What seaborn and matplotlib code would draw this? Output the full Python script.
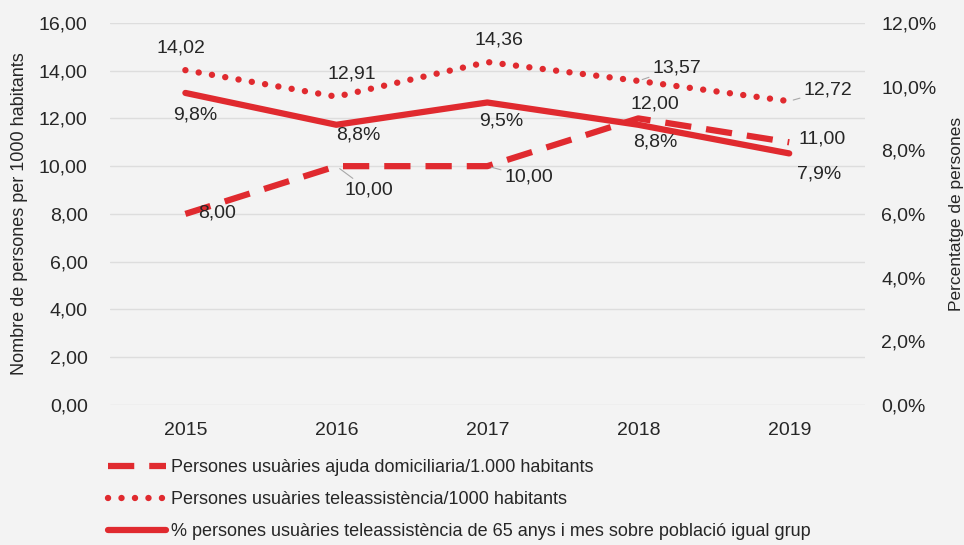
import matplotlib
matplotlib.use("Agg")
import matplotlib.pyplot as plt
import seaborn as sns
import pandas as pd
from matplotlib.lines import Line2D
from matplotlib.ticker import FuncFormatter, MultipleLocator

# ---------------- DATA ----------------
years = ["2015", "2016", "2017", "2018", "2019"]
ajuda = [8.00, 10.00, 10.00, 12.00, 11.00]           # per 1.000 habitants
teleassist = [14.02, 12.91, 14.36, 13.57, 12.72]     # per 1000 habitants
pct_65 = [9.8, 8.8, 9.5, 8.8, 7.9]                   # % (right axis)

label_ajuda = "Persones usuàries ajuda domiciliaria/1.000 habitants"
label_tele = "Persones usuàries teleassistència/1000 habitants"
label_pct = "% persones usuàries teleassistència de 65 anys i mes sobre població igual grup"

RED = "#e02a2f"
GREY_TXT = "#262626"
DASH = (0, (4.2, 2.4))
DOT = (0, (0.01, 2.1))

df = pd.DataFrame({"year": years, "ajuda": ajuda, "tele": teleassist, "pct": pct_65})

# ---------------- STYLE ----------------
sns.set_theme(style="whitegrid", rc={
    "figure.facecolor": "#f3f3f3",
    "axes.facecolor": "#f3f3f3",
    "grid.color": "#dddddd",
    "grid.linewidth": 1.0,
})
plt.rcParams["font.family"] = ["Liberation Sans", "DejaVu Sans"]

fig, ax = plt.subplots(figsize=(9.64, 5.45), dpi=100)
fig.subplots_adjust(left=0.114, right=0.897, top=0.958, bottom=0.257)
ax2 = ax.twinx()

sns.lineplot(data=df, x="year", y="ajuda", ax=ax, color=RED, lw=4.5,
             linestyle=DASH, sort=False)
sns.lineplot(data=df, x="year", y="tele", ax=ax, color=RED, lw=4.6,
             linestyle=DOT, dash_capstyle="round", sort=False)
sns.lineplot(data=df, x="year", y="pct", ax=ax2, color=RED, lw=4.5, sort=False)

# ---------------- AXES ----------------
ax.set_ylim(0, 16)
ax.yaxis.set_major_locator(MultipleLocator(2))
ax.yaxis.set_major_formatter(FuncFormatter(lambda v, p: f"{v:.2f}".replace(".", ",")))
ax2.set_ylim(0, 12)
ax2.yaxis.set_major_locator(MultipleLocator(2))
ax2.yaxis.set_major_formatter(FuncFormatter(lambda v, p: f"{v:.1f}%".replace(".", ",")))
ax2.grid(False)
ax.grid(axis="x", visible=False)
ax.set_xlim(-0.5, 4.5)

for a in (ax, ax2):
    for s in a.spines.values():
        s.set_visible(False)
    a.tick_params(axis="both", length=0, labelsize=14, colors=GREY_TXT)
ax.tick_params(axis="y", pad=16)
ax.tick_params(axis="x", pad=12)
ax2.tick_params(axis="y", pad=12)

ax.set_xlabel("")
ax.set_ylabel("Nombre de persones per 1000 habitants", fontsize=13, color=GREY_TXT, labelpad=8)
ax2.set_ylabel("Percentatge de persones", fontsize=12.5, color=GREY_TXT, labelpad=9)

# ---------------- DATA LABELS ----------------
lead = dict(arrowstyle="-", color="#a8a8a8", lw=0.8, shrinkA=0, shrinkB=3)


def fmt2(v):
    return f"{v:.2f}".replace(".", ",")


def fmt_pct(v):
    return f"{v:.1f}%".replace(".", ",")


tele_off = [(-4, 22, "center", False), (15, 23, "center", False), (12, 22, "center", False),
            (14, 13, "left", True), (14, 11, "left", True)]
for i, v in enumerate(teleassist):
    dx, dy, ha, leader = tele_off[i]
    ax.annotate(fmt2(v), (i, v), xytext=(dx, dy), textcoords="offset pixels",
                ha=ha, va="center", fontsize=14, color=GREY_TXT,
                arrowprops=lead if leader else None)

pct_off = [(10, -22), (22, -10), (14, -19), (17, -17), (30, -21)]
for i, v in enumerate(pct_65):
    dx, dy = pct_off[i]
    ax2.annotate(fmt_pct(v), (i, v), xytext=(dx, dy), textcoords="offset pixels",
                 ha="center", va="center", fontsize=14, color=GREY_TXT)

ajuda_off = [(13, 1, "left", False), (8, -24, "left", True), (17, -11, "left", True),
             (17, 14, "center", False), (9, 3, "left", False)]
for i, v in enumerate(ajuda):
    dx, dy, ha, leader = ajuda_off[i]
    ax.annotate(fmt2(v), (i, v), xytext=(dx, dy), textcoords="offset pixels",
                ha=ha, va="center", fontsize=14, color=GREY_TXT,
                arrowprops=lead if leader else None)

# ---------------- LEGEND ----------------
handles = [
    Line2D([], [], color=RED, lw=4.5, linestyle=DASH),
    Line2D([], [], color=RED, lw=4.6, linestyle=DOT, dash_capstyle="round"),
    Line2D([], [], color=RED, lw=4.5),
]
fig.legend(handles, [label_ajuda, label_tele, label_pct], loc="upper left",
           bbox_to_anchor=(0.112, 0.157), frameon=False, fontsize=13,
           handlelength=3.2, handletextpad=0.3, labelspacing=0.83,
           borderaxespad=0, borderpad=0, labelcolor=GREY_TXT)

plt.savefig("out.png", dpi=100, facecolor=fig.get_facecolor())
plt.close()
